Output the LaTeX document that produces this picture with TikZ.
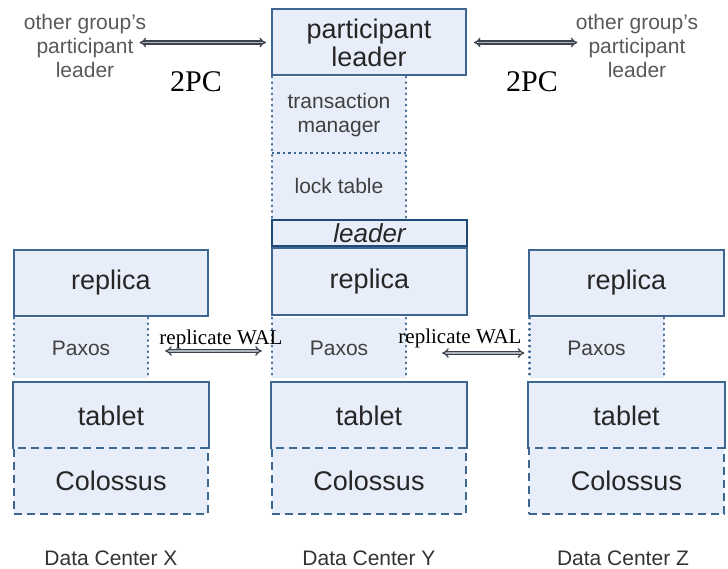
\documentclass[tikz,border=0pt]{standalone}
\usepackage{fontspec}
\setmainfont{Liberation Sans}
\newfontfamily\walfont{Liberation Serif}
\usetikzlibrary{arrows.meta}
\definecolor{boxfill}{HTML}{E8EEF9}
\definecolor{boxline}{HTML}{3D6690}
\definecolor{leadline}{HTML}{1F4A78}
\definecolor{arrowline}{HTML}{3A434E}

\begin{document}
\begin{tikzpicture}[x=1pt,y=-1pt,
  box/.style={fill=boxfill, draw=boxline, line width=2pt, inner sep=0pt,
    minimum width=194pt, minimum height=66pt, text=black!85,
    font=\fontsize{27}{28}\selectfont},
  flatbox/.style={box, draw=none},
  dotbox/.style={fill=boxfill, inner sep=0pt, minimum width=134pt,
    minimum height=60pt, text=black!75, align=center,
    font=\fontsize{21}{24}\selectfont},
  dotside/.style={draw=boxline, line width=2.4pt, dash pattern=on 0.6pt off 5pt, line cap=round},
  dashbox/.style={box, dash pattern=on 8pt off 5pt},
  leaderbox/.style={box, draw=leadline, line width=2.6pt, minimum height=26pt,
    font=\fontsize{26}{26}\selectfont\itshape},
  side/.style={align=center, text=black!65, font=\fontsize{21}{24}\selectfont},
  dc/.style={text=black!80, inner sep=0pt, font=\fontsize{21}{24}\selectfont},
  wal/.style={font=\walfont\fontsize{21}{24}\selectfont},
  twopc/.style={font=\walfont\fontsize{30}{30}\selectfont},
  link/.style={draw=arrowline, line width=1.3pt, double=arrowline!40,
    double distance=1.8pt, {Implies}-{Implies}}]
  \useasboundingbox (0,0) rectangle (728,569);

  % data center Y (leader group)
  \node[box, align=center] (pl) at (369,42.5) {participant\\leader};
  \node[dotbox, minimum height=76pt] (txm) at (339,115) {transaction\\manager};
  \node[dotbox, minimum height=66pt] (lock) at (339,186) {lock table};
  \draw[dotside] (txm.north west) -- (lock.south west);
  \draw[dotside] (txm.north east) -- (lock.south east);
  \draw[draw=boxline, line width=1.8pt, dash pattern=on 2.5pt off 3pt] (txm.south west) -- (txm.south east);
  \node[leaderbox, minimum width=195pt] (ldr) at (369.5,233) {leader};
  \node[box, minimum width=195pt, minimum height=67pt] (repY) at (369.5,281.5) {replica};
  \node[dotbox] (paxY) at (339,348) {Paxos};
  \draw[dotside] (paxY.north west) -- (paxY.south west);
  \draw[dotside] (paxY.north east) -- (paxY.south east);
  \node[flatbox, minimum height=65pt] (tabY) at (369,415.5) {tablet};
  \node[dashbox] (colY) at (369,481) {Colossus};
  \draw[draw=boxline, line width=2pt] (tabY.south west) |- (tabY.north east) -- (tabY.south east);
  \node[dc] (dcY) at (369,558) {Data Center Y};

  % data center X
  \node[box] (repX) at (111,283) {replica};
  \node[dotbox] (paxX) at (81,348) {Paxos};
  \draw[dotside] (paxX.north west) -- (paxX.south west);
  \draw[dotside] (paxX.north east) -- (paxX.south east);
  \node[flatbox, minimum height=65pt] (tabX) at (111,415.5) {tablet};
  \node[dashbox] (colX) at (111,481) {Colossus};
  \draw[draw=boxline, line width=2pt] (tabX.south west) |- (tabX.north east) -- (tabX.south east);
  \node[dc] (dcX) at (111,558) {Data Center X};

  % data center Z
  \node[box, minimum width=195pt] (repZ) at (626.5,283) {replica};
  \node[dotbox] (paxZ) at (596.5,348) {Paxos};
  \draw[dotside] (paxZ.north west) -- (paxZ.south west);
  \draw[dotside] (paxZ.north east) -- (paxZ.south east);
  \node[flatbox, minimum width=195pt, minimum height=65pt] (tabZ) at (626.5,415.5) {tablet};
  \node[dashbox, minimum width=195pt] (colZ) at (626.5,481) {Colossus};
  \draw[draw=boxline, line width=2pt] (tabZ.south west) |- (tabZ.north east) -- (tabZ.south east);
  \node[dc] (dcZ) at (623,558) {Data Center Z};

  % other groups and 2PC
  \node[side] (otherL) at (85,46) {other group's\\participant\\leader};
  \node[side] (otherR) at (637,46) {other group's\\participant\\leader};
  \draw[link, shorten >=5pt] ([xshift=-10pt]otherL.east |- pl.west) -- (pl.west);
  \draw[link, shorten <=7pt] (pl.east) -- ([xshift=5pt]otherR.west |- pl.east);
  \node[twopc] (pcL) at (196,82) {2PC};
  \node[twopc] (pcR) at (532,82) {2PC};

  % replicate WAL
  \draw[link, shorten <=17pt, shorten >=10pt] ([yshift=-3pt]paxX.east) -- ([yshift=-3pt]paxY.west);
  \draw[link, shorten <=36pt, shorten >=5pt] ([yshift=-5pt]paxY.east) -- ([yshift=-5pt]paxZ.west);
  \node[wal] (walL) at (221,339) {replicate WAL};
  \node[wal] (walR) at (460,338) {replicate WAL};
\end{tikzpicture}
\end{document}
